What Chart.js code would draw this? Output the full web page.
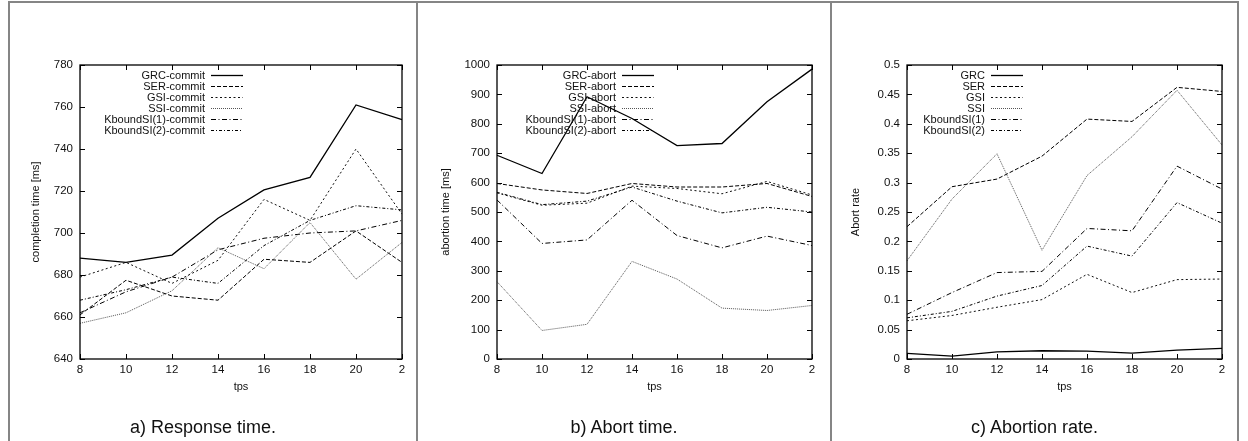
<!DOCTYPE html>
<html><head><meta charset="utf-8">
<script src="https://cdn.jsdelivr.net/npm/chart.js@4.4.1/dist/chart.umd.min.js"></script>
<style>
html,body{margin:0;padding:0;background:#fff}
body{width:1248px;height:441px;overflow:hidden;position:relative;font-family:"Liberation Sans",Arial,sans-serif}
.fr{position:absolute;background:#858585}
.panel{position:absolute;top:0;height:441px}
.panel canvas{position:absolute;left:0;top:0}
.cap{position:absolute;top:416px;left:0;width:100%;text-align:center;font-size:18px;line-height:22px;color:#111}
</style></head><body>
<div class="fr" style="left:8px;top:1px;width:1231px;height:2px"></div>
<div class="fr" style="left:8px;top:1px;width:2px;height:440px"></div>
<div class="fr" style="left:416px;top:1px;width:2px;height:440px"></div>
<div class="fr" style="left:830px;top:1px;width:2px;height:440px"></div>
<div class="fr" style="left:1237px;top:1px;width:2px;height:440px"></div>

<div class="panel" style="left:10px;width:406px"><canvas id="ca" width="406" height="441"></canvas><div class="cap" style="left:-10px;width:406px">a) Response time.</div></div>
<div class="panel" style="left:418px;width:412px"><canvas id="cb" width="412" height="441"></canvas><div class="cap">b) Abort time.</div></div>
<div class="panel" style="left:832px;width:405px"><canvas id="cc" width="405" height="441"></canvas><div class="cap">c) Abortion rate.</div></div>

<script>
// ---- data ----
const tps = [8, 10, 12, 14, 16, 18, 20, 22];
const tpsTickLabels = ['8', '10', '12', '14', '16', '18', '20', '2'];

const commitLabels = ['GRC-commit', 'SER-commit', 'GSI-commit', 'SSI-commit', 'KboundSI(1)-commit', 'KboundSI(2)-commit'];
const commitGRC = [688, 686, 689.5, 707, 720.5, 726.5, 761, 754];
const commitSER = [661, 677.5, 670, 668, 687.5, 686, 701, 686];
const commitGSI = [679, 686, 676, 687, 716, 706, 740, 709];
const commitSSI = [657, 662, 672.5, 693, 683, 705, 678, 695.5];
const commitK1 = [662, 672, 679, 692, 697.5, 700, 701, 706];
const commitK2 = [668, 673, 679, 676, 694, 706, 713, 711];

const abortLabels = ['GRC-abort', 'SER-abort', 'GSI-abort', 'SSI-abort', 'KboundSI(1)-abort', 'KboundSI(2)-abort'];
const abortGRC = [693, 631, 892, 818, 726, 733, 875, 986];
const abortSER = [597, 575, 563, 597, 585, 585, 597, 553];
const abortGSI = [565, 523, 530, 588, 580, 562, 604, 558];
const abortSSI = [263, 97, 118, 332, 272, 173, 165, 182];
const abortK1 = [541, 393, 405, 540, 420, 378, 418, 386];
const abortK2 = [567, 525, 537, 585, 537, 497, 516, 500];

const rateLabels = ['GRC', 'SER', 'GSI', 'SSI', 'KboundSI(1)', 'KboundSI(2)'];
const rateGRC = [0.0095, 0.005, 0.012, 0.014, 0.0135, 0.010, 0.015, 0.018];
const rateSER = [0.225, 0.293, 0.306, 0.345, 0.408, 0.404, 0.462, 0.455];
const rateGSI = [0.065, 0.074, 0.088, 0.101, 0.144, 0.113, 0.135, 0.136];
const rateSSI = [0.167, 0.272, 0.349, 0.185, 0.312, 0.378, 0.457, 0.364];
const rateK1 = [0.076, 0.113, 0.147, 0.149, 0.222, 0.218, 0.328, 0.289];
const rateK2 = [0.070, 0.081, 0.107, 0.125, 0.192, 0.175, 0.266, 0.231];

// ---- styles ----
const FONT = '"Liberation Sans", Arial, sans-serif';
const styles = [
  {color: '#000', dash: [], width: 1.3},
  {color: '#000', dash: [4, 2], width: 1},
  {color: '#111', dash: [2, 2.5], width: 1},
  {color: '#555', dash: [1, 1], width: 1},
  {color: '#000', dash: [5, 2.5, 1, 2.5], width: 1},
  {color: '#000', dash: [3, 2, 1, 2], width: 1}
];

function makeSets(labels, arrays) {
  return arrays.map((d, i) => ({
    label: labels[i], data: d,
    borderColor: styles[i].color, borderDash: styles[i].dash, borderWidth: styles[i].width,
    pointRadius: 0, tension: 0, fill: false
  }));
}

const gpFrame = {
  id: 'gpFrame',
  afterDatasetsDraw(chart, args, opts) {
    const {ctx, chartArea: a, scales: {x, y}} = chart;
    ctx.save();
    ctx.strokeStyle = '#000';
    ctx.lineWidth = 1;
    ctx.setLineDash([]);
    ctx.beginPath();
    x.ticks.forEach((t, i) => {
      const px = Math.round(x.getPixelForTick(i)) + 0.5;
      ctx.moveTo(px, a.bottom); ctx.lineTo(px, a.bottom - 5);
      ctx.moveTo(px, a.top); ctx.lineTo(px, a.top + 5);
    });
    y.ticks.forEach((t, i) => {
      const py = Math.round(y.getPixelForTick(i)) + 0.5;
      ctx.moveTo(a.left, py); ctx.lineTo(a.left + 5, py);
      ctx.moveTo(a.right, py); ctx.lineTo(a.right - 5, py);
    });
    ctx.stroke();
    ctx.lineWidth = 1.3;
    ctx.strokeRect(a.left, a.top, a.right - a.left, a.bottom - a.top);
    // legend (key)
    ctx.font = '11px ' + FONT;
    ctx.textAlign = 'right';
    ctx.textBaseline = 'middle';
    const tx = a.left + opts.textRight;
    chart.data.datasets.forEach((ds, i) => {
      const yy = Math.round(a.top + 10 + i * 11) + 0.5;
      ctx.fillStyle = '#111';
      ctx.fillText(ds.label, tx, yy);
      ctx.strokeStyle = ds.borderColor;
      ctx.lineWidth = ds.borderWidth;
      ctx.setLineDash(ds.borderDash);
      ctx.beginPath();
      ctx.moveTo(tx + 6, yy); ctx.lineTo(tx + 38, yy);
      ctx.stroke();
    });
    ctx.restore();
  }
};

function build(id, sets, cfg) {
  new Chart(document.getElementById(id), {
    type: 'line',
    data: {labels: tps, datasets: sets},
    plugins: [gpFrame],
    options: {
      responsive: false, animation: false, events: [],
      layout: {padding: {left: 0, right: cfg.padRight, top: 65, bottom: 0}},
      plugins: {legend: {display: false}, tooltip: {enabled: false}, gpFrame: {textRight: cfg.textRight}},
      scales: {
        x: {
          type: 'category', offset: false,
          grid: {display: false, drawTicks: false}, border: {display: false},
          afterFit: s => { s.height = 82; },
          ticks: {color: '#111', font: {size: 11.5, family: FONT}, padding: 4, autoSkip: false, maxRotation: 0,
            callback: (v, i) => tpsTickLabels[i]},
          title: {display: true, text: 'tps', color: '#111', font: {size: 11, family: FONT}, padding: {top: 0, bottom: 47}}
        },
        y: {
          min: cfg.min, max: cfg.max,
          grid: {display: false, drawTicks: false}, border: {display: false},
          afterFit: s => { s.width = cfg.yWidth; },
          ticks: {stepSize: cfg.step, color: '#111', font: {size: 11.5, family: FONT}, padding: 7, callback: cfg.fmt},
          title: {display: true, text: cfg.yTitle, color: '#111', font: {size: 11, family: FONT}, padding: {top: cfg.yTitlePad, bottom: 0}}
        }
      }
    }
  });
}

build('ca', makeSets(commitLabels, [commitGRC, commitSER, commitGSI, commitSSI, commitK1, commitK2]),
  {min: 640, max: 780, step: 20, yWidth: 70, padRight: 14, textRight: 125, yTitle: 'completion time [ms]', yTitlePad: 19, fmt: v => String(v)});
build('cb', makeSets(abortLabels, [abortGRC, abortSER, abortGSI, abortSSI, abortK1, abortK2]),
  {min: 0, max: 1000, step: 100, yWidth: 79, padRight: 18, textRight: 119, yTitle: 'abortion time [ms]', yTitlePad: 21, fmt: v => String(v)});
build('cc', makeSets(rateLabels, [rateGRC, rateSER, rateGSI, rateSSI, rateK1, rateK2]),
  {min: 0, max: 0.5, step: 0.05, yWidth: 75, padRight: 15, textRight: 78, yTitle: 'Abort rate', yTitlePad: 17, fmt: v => String(+v.toFixed(2))});
</script>
</body></html>
